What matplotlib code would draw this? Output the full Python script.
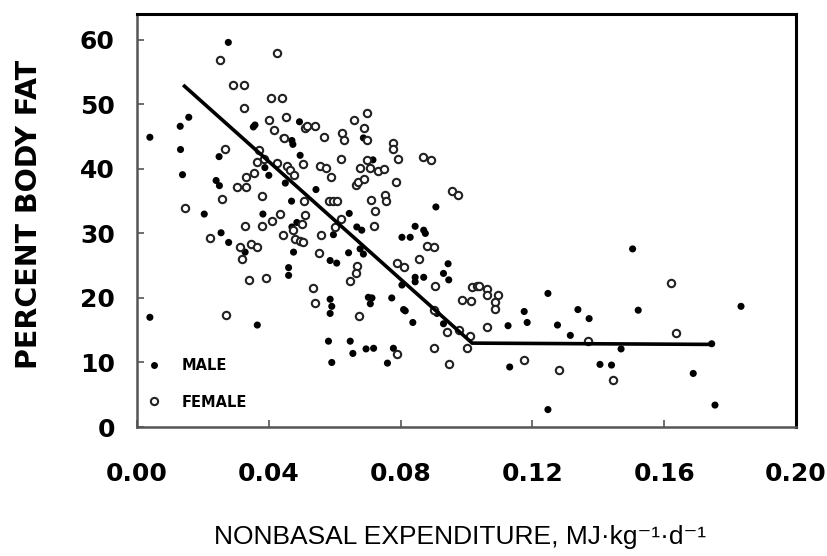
import matplotlib
matplotlib.use("Agg")
import matplotlib.pyplot as plt
from matplotlib.lines import Line2D

# Nonbasal energy expenditure (MJ/kg/d) vs percent body fat
male_x = [0.0277, 0.0157, 0.0131, 0.0039, 0.0132, 0.0138, 0.0353, 0.0358, 0.0493, 0.0470,
          0.0473, 0.0249, 0.0388, 0.0400, 0.0495, 0.0240, 0.0250, 0.0450, 0.0543, 0.0469,
          0.0382, 0.0644, 0.0667, 0.0682, 0.0687, 0.0716, 0.0907, 0.0844, 0.0870, 0.0875,
          0.0804, 0.0829, 0.0204, 0.0255, 0.0278, 0.0328, 0.0475, 0.0460, 0.0460, 0.0039,
          0.0470, 0.0485, 0.0642, 0.0677, 0.0687, 0.0586, 0.0606, 0.0944, 0.0844, 0.0870,
          0.0844, 0.0930, 0.0946, 0.0804, 0.0586, 0.0591, 0.0702, 0.0713, 0.0708, 0.0773,
          0.0809, 0.0814, 0.0837, 0.0930, 0.0581, 0.0647, 0.0655, 0.0695, 0.0718, 0.0778,
          0.0591, 0.0760, 0.0365, 0.0910, 0.1126, 0.1184, 0.1175, 0.1247, 0.1276, 0.1315,
          0.1338, 0.1372, 0.1504, 0.1521, 0.1469, 0.1405, 0.1440, 0.1131, 0.1247, 0.1833,
          0.1744, 0.1688, 0.1754, 0.0586, 0.0443, 0.0596]
male_y = [59.6, 48.0, 46.6, 44.9, 43.0, 39.1, 46.5, 46.8, 47.3, 44.4,
          43.8, 41.9, 40.2, 39.0, 42.1, 38.2, 37.4, 37.8, 36.8, 35.0,
          33.0, 33.1, 31.0, 30.5, 44.8, 41.4, 34.1, 31.1, 30.5, 30.0,
          29.4, 29.4, 33.0, 30.1, 28.6, 27.1, 27.1, 24.7, 23.5, 17.0,
          31.0, 31.7, 27.0, 27.6, 26.8, 25.8, 25.4, 25.3, 23.2, 23.2,
          22.5, 23.8, 22.8, 22.0, 19.8, 18.7, 20.1, 20.0, 19.1, 20.0,
          18.2, 18.0, 16.2, 16.0, 13.3, 13.3, 11.4, 12.1, 12.2, 12.2,
          10.0, 9.9, 15.8, 17.6, 15.7, 16.2, 17.9, 20.7, 15.8, 14.2,
          18.2, 16.8, 27.6, 18.1, 12.1, 9.7, 9.6, 9.3, 2.7, 18.7,
          12.9, 8.3, 3.4, 17.6, 44.8, 29.8]

female_x = [0.0253, 0.0425, 0.0292, 0.0326, 0.0408, 0.0440, 0.0324, 0.0452, 0.0400, 0.0417,
            0.0510, 0.0447, 0.0266, 0.0371, 0.0385, 0.0365, 0.0355, 0.0330, 0.0505, 0.0426,
            0.0455, 0.0465, 0.0302, 0.0332, 0.0515, 0.0540, 0.0566, 0.0622, 0.0628, 0.0659,
            0.0698, 0.0690, 0.0698, 0.0619, 0.0556, 0.0574, 0.0589, 0.0507, 0.0584, 0.0596,
            0.0608, 0.0477, 0.0411, 0.0434, 0.0620, 0.0721, 0.0710, 0.0753, 0.0756, 0.0665,
            0.0672, 0.0690, 0.0698, 0.0677, 0.0708, 0.0730, 0.0750, 0.0777, 0.0777, 0.0787,
            0.0718, 0.0601, 0.0558, 0.0792, 0.0869, 0.0891, 0.0956, 0.0973, 0.0880, 0.0900,
            0.0258, 0.0378, 0.0146, 0.0378, 0.0328, 0.0222, 0.0313, 0.0318, 0.0346, 0.0364,
            0.0444, 0.0500, 0.0510, 0.0480, 0.0495, 0.0505, 0.0473, 0.0341, 0.0390, 0.0270,
            0.0551, 0.0669, 0.0665, 0.0647, 0.0789, 0.0809, 0.0857, 0.0905, 0.1017, 0.1032,
            0.0533, 0.0541, 0.0675, 0.0986, 0.1015, 0.0900, 0.0940, 0.0976, 0.1011, 0.1001,
            0.0789, 0.0900, 0.0946, 0.1037, 0.1062, 0.1062, 0.1097, 0.1087, 0.1087, 0.1062,
            0.1368, 0.1445, 0.1280, 0.1175, 0.1621, 0.1637]
female_y = [56.9, 58.0, 53.0, 53.0, 51.0, 51.0, 49.5, 48.0, 47.5, 46.0,
            46.4, 44.8, 43.1, 42.9, 41.6, 41.0, 39.4, 38.8, 40.7, 40.9,
            40.4, 39.8, 37.2, 37.2, 46.6, 46.7, 45.0, 45.6, 44.4, 47.5,
            48.7, 46.3, 44.5, 41.5, 40.4, 40.1, 38.8, 35.1, 35.1, 35.1,
            35.1, 39.1, 31.9, 33.0, 32.3, 33.5, 35.2, 35.9, 35.1, 37.5,
            37.9, 38.4, 41.4, 40.2, 40.2, 39.7, 40.0, 44.0, 43.1, 37.9,
            31.2, 31.0, 29.7, 41.5, 41.9, 41.4, 36.6, 36.0, 28.1, 27.9,
            35.3, 35.8, 34.0, 31.2, 31.1, 29.3, 27.9, 26.1, 28.4, 27.9,
            29.7, 31.5, 32.8, 29.2, 28.9, 28.6, 30.5, 22.8, 23.1, 17.3,
            27.0, 25.0, 23.8, 22.7, 25.4, 24.8, 26.1, 21.9, 21.7, 21.8,
            21.5, 19.2, 17.2, 19.7, 19.6, 18.2, 14.8, 15.0, 14.1, 12.2,
            11.3, 12.2, 9.7, 21.9, 21.4, 20.4, 20.5, 19.4, 18.3, 15.5,
            13.4, 7.3, 8.8, 10.4, 22.3, 14.6]

# Two-segment (broken-line) regression fit
fit_x = [0.014, 0.1017, 0.1744]
fit_y = [53.0, 13.0, 12.8]

x_ticks = [0.00, 0.04, 0.08, 0.12, 0.16, 0.20]
y_ticks = [0, 10, 20, 30, 40, 50, 60]

fig = plt.figure(figsize=(8.28, 5.56), dpi=100)
ax = fig.add_axes([0.1655, 0.2320, 0.7959, 0.7428])

ax.scatter(male_x, male_y, s=26, color="black", edgecolors="none", zorder=3)
ax.scatter(female_x, female_y, s=28, facecolors="white", edgecolors="#222222",
           linewidths=1.5, zorder=3)
ax.plot(fit_x, fit_y, color="black", lw=2.6, solid_capstyle="butt", zorder=4)

ax.set_xlim(0, 0.20)
ax.set_ylim(0, 64)
ax.set_xticks(x_ticks)
ax.set_xticklabels([f"{v:.2f}" for v in x_ticks])
ax.set_yticks(y_ticks)
ax.tick_params(direction="in", length=5, width=1.2, color="#555555", labelsize=18)
ax.tick_params(axis="y", pad=16)
ax.tick_params(axis="x", pad=25)
for lab in ax.get_xticklabels() + ax.get_yticklabels():
    lab.set_fontweight("bold")

for side in ("top", "right"):
    ax.spines[side].set_linewidth(2.2)
    ax.spines[side].set_color("black")
for side in ("left", "bottom"):
    ax.spines[side].set_linewidth(1.8)
    ax.spines[side].set_color("#555555")

ax.set_ylabel("PERCENT BODY FAT", fontsize=20.5, fontweight="bold")
ax.yaxis.set_label_coords(-0.142, 0.515)
ax.set_xlabel("NONBASAL EXPENDITURE, MJ·kg⁻¹·d⁻¹", fontsize=19,
              family=["Liberation Sans Narrow", "Liberation Sans", "DejaVu Sans"])
ax.xaxis.set_label_coords(0.49, -0.238)

handles = [
    Line2D([], [], ls="none", marker="o", ms=5, color="black", mec="none"),
    Line2D([], [], ls="none", marker="o", ms=5.2, mfc="white", mec="#222222", mew=1.5),
]
ax.legend(handles, ["MALE", "FEMALE"], loc="lower left", bbox_to_anchor=(-0.012, 0.0),
          frameon=False, handlelength=1.0, handletextpad=1.4, labelspacing=1.5,
          borderaxespad=0.8, prop={"weight": "bold", "size": 10.5})

fig.savefig("out.png", dpi=100)
